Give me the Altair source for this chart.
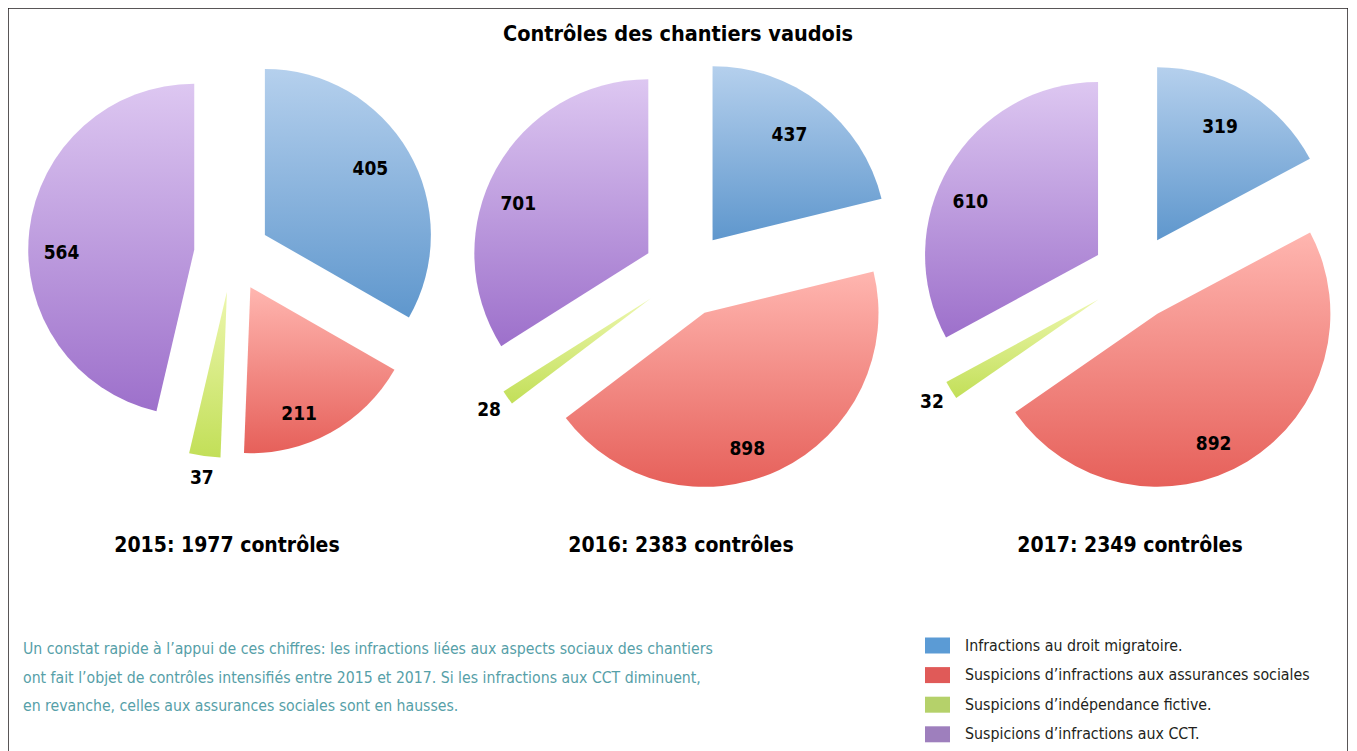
import altair as alt
import pandas as pd

# ---------------- data ----------------
years = [2015, 2016, 2017]
totals = [1977, 2383, 2349]
categories = [
    "Infractions au droit migratoire.",
    "Suspicions d’infractions aux assurances sociales",
    "Suspicions d’indépendance fictive.",
    "Suspicions d’infractions aux CCT.",
]
migratoire = [405, 437, 319]
assurances = [211, 898, 892]
independance = [37, 28, 32]
cct = [564, 701, 610]
series = [migratoire, assurances, independance, cct]

title_text = "Contrôles des chantiers vaudois"
note_lines = [
    "Un constat rapide à l’appui de ces chiffres: les infractions liées aux aspects sociaux des chantiers",
    "ont fait l’objet de contrôles intensifiés entre 2015 et 2017. Si les infractions aux CCT diminuent,",
    "en revanche, celles aux assurances sociales sont en hausses.",
]

# ---------------- styles ----------------
legend_colors = ["#5b9bd5", "#e05a58", "#b5d16a", "#9e7fbd"]
gradient_stops = [
    ("#b5d0ed", "#5f97cd"),
    ("#ffb6b0", "#e6605a"),
    ("#edf7ae", "#c2df58"),
    ("#ddc7f1", "#9d70cb"),
]
# label placement per category, like the original's "best fit": angular nudge (deg), radial factor
label_nudge = [-2, 8, 0, -8]
label_radius = [0.75, 0.82, 1.13, 0.8]
FONT = "DejaVu Sans Condensed, sans-serif"
TEAL = "#56a0a8"
INK = "#231f20"

# pie layout inside the frame (pixels): centre, radius, explosion distance
layout = {
    2015: dict(cx=224, cy=246, r=166, d=38),
    2016: dict(cx=678, cy=266, r=174, d=43),
    2017: dict(cx=1127, cy=269, r=173, d=43),
}


def by_year(key, shift=0):
    y0, y1, y2 = years
    return (f"datum.year == {y0} ? {layout[y0][key] + shift} : "
            f"datum.year == {y1} ? {layout[y1][key] + shift} : {layout[y2][key] + shift}")


def by_cat(values):
    return " : ".join(f"datum.idx == {i} ? {v}" for i, v in enumerate(values[:-1])) + f" : {values[-1]}"


rows = []
for yi, yr in enumerate(years):
    for ci, cat in enumerate(categories):
        rows.append(dict(year=yr, cat=cat, idx=ci, value=series[ci][yi]))
df = pd.DataFrame(rows)

base = (
    alt.Chart(df)
    .transform_window(cum="sum(value)", groupby=["year"], sort=[alt.SortField("idx")])
    .transform_joinaggregate(tot="sum(value)", groupby=["year"])
    .transform_calculate(
        t0="2*PI*(datum.cum - datum.value)/datum.tot",
        t1="2*PI*datum.cum/datum.tot",
        cx=by_year("cx"), cy=by_year("cy"), r=by_year("r"), d=by_year("d"),
    )
    .transform_calculate(mid="(datum.t0 + datum.t1)/2")
    .transform_calculate(
        ax="datum.cx + datum.d*sin(datum.mid)",
        ay="datum.cy - datum.d*cos(datum.mid)",
    )
)

arcs = []
for ci, (top, bottom) in enumerate(gradient_stops):
    grad = alt.LinearGradient(
        gradient="linear", x1=0, y1=0, x2=0, y2=1,
        stops=[alt.GradientStop(color=top, offset=0), alt.GradientStop(color=bottom, offset=1)],
    )
    arcs.append(
        base.transform_filter(f"datum.idx == {ci}")
        .mark_arc(fill=grad)
        .encode(
            x=alt.X("ax:Q", scale=None),
            y=alt.Y("ay:Q", scale=None),
            theta=alt.Theta("t0:Q", scale=None),
            theta2=alt.Theta2("t1:Q"),
            radius=alt.Radius("r:Q", scale=None),
        )
    )

labels = (
    base.transform_calculate(
        k=by_cat(label_radius),
        la=f"datum.mid + ({by_cat(label_nudge)})*PI/180",
    )
    .transform_calculate(
        lx="datum.ax + datum.k*datum.r*sin(datum.la)",
        ly="datum.ay - datum.k*datum.r*cos(datum.la)",
    )
    .mark_text(font=FONT, fontSize=19, fontWeight="bold", color="#000000")
    .encode(
        x=alt.X("lx:Q", scale=None),
        y=alt.Y("ly:Q", scale=None),
        text=alt.Text("value:Q"),
    )
)

sub_df = pd.DataFrame({"year": years, "total": totals})
subtitles = (
    alt.Chart(sub_df)
    .transform_calculate(
        label="datum.year + ': ' + datum.total + ' contrôles'",
        tx=by_year("cx", -5),
    )
    .mark_text(font=FONT, fontSize=21, fontWeight="bold", color="#000000")
    .encode(x=alt.X("tx:Q", scale=None), y=alt.value(538), text=alt.Text("label:N"))
)

title = (
    alt.Chart(pd.DataFrame({"t": [title_text]}))
    .mark_text(font=FONT, fontSize=21.5, fontWeight="bold", color="#000000")
    .encode(x=alt.value(670), y=alt.value(27), text=alt.Text("t:N"))
)

note = (
    alt.Chart(pd.DataFrame({"t": [0]}))
    .mark_text(font=FONT, fontSize=15.7, color=TEAL, align="left", baseline="top", lineHeight=28.5)
    .encode(x=alt.value(15), y=alt.value(634), text=alt.value(note_lines))
)

legend_layer = (
    alt.Chart(pd.DataFrame({"cat": categories}))
    .mark_square(opacity=0)
    .encode(
        color=alt.Color(
            "cat:N",
            scale=alt.Scale(domain=categories, range=legend_colors),
            legend=alt.Legend(
                title=None, orient="none", legendX=917, legendY=625,
                symbolType="M-1,-0.64L1,-0.64L1,0.64L-1,0.64Z", symbolSize=625,
                symbolOpacity=1, symbolStrokeWidth=0,
                labelFont=FONT, labelFontSize=15.8, labelColor=INK, labelOffset=15,
                rowPadding=8.6, labelLimit=0, padding=0,
            ),
        )
    )
)

chart = (
    alt.layer(*arcs, labels, subtitles, title, note, legend_layer)
    .properties(width=1340, height=745, padding=0, autosize="none")
    .configure_view(stroke=INK, strokeWidth=1.5)
)

chart.save("out.html", embed_options={"renderer": "svg", "actions": False})
